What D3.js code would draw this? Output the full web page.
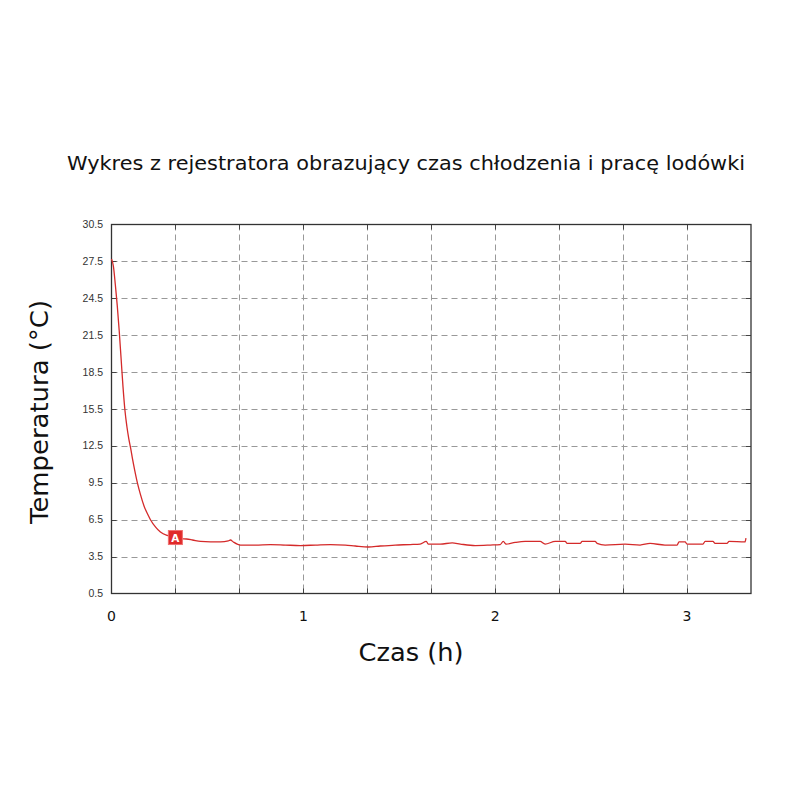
<!DOCTYPE html>
<html><head><meta charset="utf-8">
<script src="https://cdn.jsdelivr.net/npm/d3@7"></script>
<style>body{margin:0;background:#fff}</style>
</head><body>
<svg id="c" width="800" height="800"></svg>
<script>
const title = "Wykres z rejestratora obrazujący czas chłodzenia i pracę lodówki";
const xLabel = "Czas (h)";
const yLabel = "Temperatura (°C)";
const yTicks = [0.5, 3.5, 6.5, 9.5, 12.5, 15.5, 18.5, 21.5, 24.5, 27.5, 30.5];
const xLabelTicks = [0, 1, 2, 3];
const xGridTicks = [1/3, 2/3, 1, 4/3, 5/3, 2, 7/3, 8/3, 3];
const markerLabel = "A";
const markerTime = 0.333;
const markerTemp = 5.05;
const times = [0, 0.01, 0.02, 0.03, 0.04, 0.05, 0.06, 0.07, 0.08, 0.09, 0.10, 0.11, 0.12, 0.135, 0.15, 0.17, 0.19, 0.203, 0.23, 0.255, 0.29,
  0.333, 0.359, 0.391, 0.422, 0.464, 0.516, 0.568, 0.609, 0.620, 0.635, 0.672, 0.750, 0.828, 0.906, 0.984,
  1.063, 1.141, 1.219, 1.271, 1.339, 1.401, 1.479, 1.557, 1.609, 1.641, 1.651, 1.714, 1.776, 1.818, 1.896,
  1.974, 2.026, 2.042, 2.057, 2.104, 2.156, 2.234, 2.260, 2.313, 2.365, 2.375, 2.443, 2.453, 2.521, 2.531,
  2.573, 2.677, 2.755, 2.807, 2.885, 2.948, 2.958, 2.990, 3.000, 3.083, 3.094, 3.135, 3.146, 3.208, 3.219,
  3.302, 3.307];
const temps = [27.7, 27.1, 25.6, 23.9, 21.9, 19.6, 17.3, 15.4, 14.1, 13.1, 12.3, 11.4, 10.6, 9.5, 8.6, 7.6, 6.9, 6.5, 5.9, 5.5, 5.22,
  5.09, 4.97, 4.93, 4.85, 4.73, 4.69, 4.69, 4.77, 4.85, 4.69, 4.44, 4.44, 4.48, 4.44, 4.40,
  4.44, 4.48, 4.44, 4.36, 4.28, 4.36, 4.44, 4.48, 4.52, 4.73, 4.52, 4.52, 4.61, 4.52, 4.40,
  4.44, 4.48, 4.73, 4.52, 4.65, 4.73, 4.73, 4.52, 4.73, 4.73, 4.57, 4.57, 4.73, 4.73, 4.57,
  4.44, 4.52, 4.44, 4.57, 4.44, 4.44, 4.69, 4.69, 4.52, 4.52, 4.73, 4.73, 4.57, 4.57, 4.73,
  4.69, 5.01];

const svg = d3.select("#c");
const L = 111.5, R = 751, T = 224.5, B = 593.5;
const x = d3.scaleLinear().domain([0, 10/3]).range([L, R]);
const y = d3.scaleLinear().domain([0.5, 30.5]).range([B, T]);

svg.append("text").attr("x", 406).attr("y", 170).attr("text-anchor", "middle")
  .attr("font-family", "DejaVu Sans").attr("font-size", 19).attr("fill", "#111")
  .attr("textLength", 678).attr("lengthAdjust", "spacingAndGlyphs").text(title);

// grid
const grid = svg.append("g").attr("stroke", "#999").attr("stroke-dasharray", "6,4").attr("stroke-width", 1);
grid.selectAll("line.h").data(yTicks.slice(1, -1)).join("line")
  .attr("x1", L).attr("x2", R).attr("y1", d => Math.round(y(d)) + 0.5).attr("y2", d => Math.round(y(d)) + 0.5);
grid.selectAll("line.v").data(xGridTicks).join("line")
  .attr("y1", T).attr("y2", B).attr("x1", d => Math.round(x(d)) + 0.5).attr("x2", d => Math.round(x(d)) + 0.5);

// inward ticks on all sides
const tk = svg.append("g").attr("stroke", "#444").attr("stroke-width", 1);
const yT = yTicks.slice(1, -1);
tk.selectAll("line.yl").data(yT).join("line").attr("x1", L).attr("x2", L + 5)
  .attr("y1", d => Math.round(y(d)) + 0.5).attr("y2", d => Math.round(y(d)) + 0.5);
tk.selectAll("line.yr").data(yT).join("line").attr("class", "yr").attr("x1", R - 5).attr("x2", R)
  .attr("y1", d => Math.round(y(d)) + 0.5).attr("y2", d => Math.round(y(d)) + 0.5);
tk.selectAll("line.xb").data(xGridTicks).join("line").attr("class", "xb").attr("y1", B - 5).attr("y2", B)
  .attr("x1", d => Math.round(x(d)) + 0.5).attr("x2", d => Math.round(x(d)) + 0.5);
tk.selectAll("line.xt").data(xGridTicks).join("line").attr("class", "xt").attr("y1", T).attr("y2", T + 5)
  .attr("x1", d => Math.round(x(d)) + 0.5).attr("x2", d => Math.round(x(d)) + 0.5);

// frame
svg.append("rect").attr("x", L).attr("y", T).attr("width", R - L).attr("height", B - T)
  .attr("fill", "none").attr("stroke", "#333").attr("stroke-width", 1.3);

// y tick labels
svg.append("g").selectAll("text").data(yTicks).join("text")
  .attr("x", 103).attr("y", d => y(d) + 3.5).attr("text-anchor", "end")
  .attr("font-family", "Liberation Sans, Arial").attr("font-size", 10.5).attr("fill", "#333")
  .text(d => d.toFixed(1));

// x tick labels
svg.append("g").selectAll("text").data(xLabelTicks).join("text")
  .attr("x", d => x(d)).attr("y", 621).attr("text-anchor", "middle")
  .attr("font-family", "DejaVu Sans").attr("font-size", 14).attr("fill", "#111")
  .text(d => d);

// axis titles
svg.append("text").attr("x", 411).attr("y", 661).attr("text-anchor", "middle")
  .attr("font-family", "DejaVu Sans").attr("font-size", 24).attr("fill", "#111")
  .attr("textLength", 105).attr("lengthAdjust", "spacingAndGlyphs").text(xLabel);
svg.append("text").attr("transform", "translate(48,412) rotate(-90)").attr("text-anchor", "middle")
  .attr("font-family", "DejaVu Sans").attr("font-size", 24).attr("fill", "#111")
  .attr("textLength", 224).attr("lengthAdjust", "spacingAndGlyphs").text(yLabel);

// data line
const data = times.map((t, i) => ({t, v: temps[i]}));
svg.append("path").datum(data).attr("fill", "none").attr("stroke", "#d42a2a").attr("stroke-width", 1.3)
  .attr("d", d3.line().x(d => x(d.t)).y(d => y(d.v)).curve(d3.curveMonotoneX));

// marker
const mg = svg.append("g").attr("transform", `translate(${x(markerTime)},${y(markerTemp)})`);
mg.append("rect").attr("x", -7).attr("y", -7).attr("width", 14).attr("height", 14)
  .attr("fill", "#e02a2a").attr("stroke", "#f07070").attr("stroke-width", 1);
mg.append("text").attr("y", 4).attr("text-anchor", "middle").attr("font-family", "DejaVu Sans")
  .attr("font-weight", "bold").attr("font-size", 10.5).attr("fill", "#fff").text(markerLabel);
</script>
</body></html>
